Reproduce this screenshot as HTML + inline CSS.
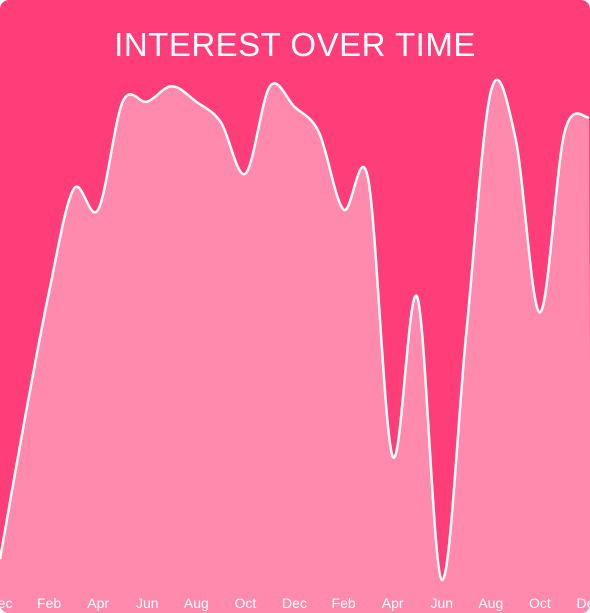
<!DOCTYPE html>
<html><head><meta charset="utf-8"><style>
html,body{margin:0;padding:0;background:#fff;}
#card{position:relative;width:590px;height:613px;border-radius:9px;overflow:hidden;background:#FF3D79;}
svg{position:absolute;left:0;top:0;}
#title{position:absolute;left:0;top:26px;width:590px;text-align:center;color:#fff;font:33px "Liberation Sans",sans-serif;letter-spacing:0.5px;}
</style></head><body>
<div id="card">
<svg id="chart" width="590" height="613"></svg>
<div id="title">INTEREST OVER TIME</div>
</div>
<script>
const months = ["Dec","Jan","Feb","Mar","Apr","May","Jun","Jul","Aug","Sep","Oct","Nov","Dec","Jan","Feb","Mar","Apr","May","Jun","Jul","Aug","Sep","Oct","Nov","Dec"];
const interest = [6,33,58,78,74,95,95,98,95,91,81,98,94,89,74,80,26,57,2,50,97,88,54,89,92];
const tickLabels = ["Dec","Feb","Apr","Jun","Aug","Oct","Dec","Feb","Apr","Jun","Aug","Oct","Dec"];
const tickIndex = [0,2,4,6,8,10,12,14,16,18,20,22,24];

const svg = document.getElementById('chart');
const NS = 'http://www.w3.org/2000/svg';
const x = i => i * (589 / (months.length - 1));
const y = v => 590 - v * 5.14;
const pts = interest.map((v,i)=>[x(i), y(v)]);
let d = `M${pts[0][0]},${pts[0][1]}`;
for (let i=0;i<pts.length-1;i++){
  const p0=pts[Math.max(0,i-1)],p1=pts[i],p2=pts[i+1],p3=pts[Math.min(pts.length-1,i+2)];
  const t=0.5/3;
  const c1=[p1[0]+(p2[0]-p0[0])*t, p1[1]+(p2[1]-p0[1])*t];
  const c2=[p2[0]-(p3[0]-p1[0])*t, p2[1]-(p3[1]-p1[1])*t];
  d+=` C${c1[0]},${c1[1]} ${c2[0]},${c2[1]} ${p2[0]},${p2[1]}`;
}
const area=document.createElementNS(NS,'path');
area.setAttribute('d', d+` L${pts[pts.length-1][0]+2},613 L-2,613 L-2,${pts[0][1]} Z`);
area.setAttribute('fill','#FF8AAD');


svg.appendChild(area);
const line=document.createElementNS(NS,'path');
line.setAttribute('d', d);
line.setAttribute('fill','none');
line.setAttribute('stroke','#fff');
line.setAttribute('stroke-width','2.5');


svg.appendChild(line);
tickLabels.forEach((lab,k)=>{
  const t=document.createElementNS(NS,'text');
  t.setAttribute('x', x(tickIndex[k]));
  t.setAttribute('y', 608);
  t.setAttribute('text-anchor','middle');
  t.setAttribute('fill','#fff');
  t.setAttribute('font-family','Liberation Sans, sans-serif');
  t.setAttribute('font-size','14');
  t.textContent=lab;
  
  
  svg.appendChild(t);
});
</script>
</body></html>
